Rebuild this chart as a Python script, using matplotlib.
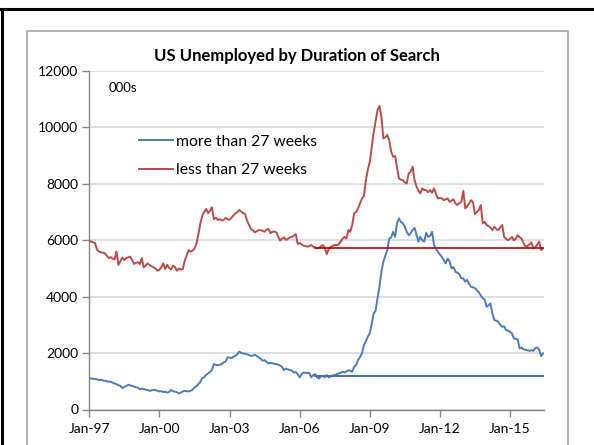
import pandas as pd
import matplotlib
matplotlib.use("Agg")
import matplotlib.pyplot as plt
from matplotlib.lines import Line2D

plt.rcParams['font.family'] = ['Lato', 'DejaVu Sans']

# monthly, Jan-1997 .. Jun-2016, thousands
dates = pd.date_range('1997-01-01', periods=234, freq='MS')

more_27 = [
    1110, 1100, 1090, 1080, 1070, 1040, 1060, 1030, 1020, 1000, 980, 990,
    950, 920, 900, 860, 840, 760, 800, 830, 880, 850, 840, 810,
    790, 770, 720, 740, 730, 700, 690, 660, 680, 700, 690, 660,
    640, 650, 620, 630, 600, 620, 690, 650, 630, 610, 570, 600,
    640, 660, 650, 640, 660, 700, 780, 820, 900, 980, 1110, 1150,
    1230, 1280, 1330, 1400, 1610, 1580, 1570, 1590, 1610, 1670, 1700, 1850,
    1840, 1820, 1870, 1900, 1950, 2050, 2010, 1990, 1980, 1960, 1930, 1900,
    1910, 1940, 1900, 1850, 1800, 1730, 1750, 1690, 1630, 1650, 1640, 1620,
    1610, 1590, 1560, 1510, 1400, 1450, 1420, 1400, 1380, 1310, 1330, 1250,
    1140, 1250, 1310, 1300, 1290, 1300, 1140, 1220, 1250, 1140, 1100, 1180,
    1180, 1150, 1220, 1130, 1180, 1200, 1220, 1250, 1280, 1300, 1340, 1310,
    1350, 1390, 1370, 1340, 1510, 1580, 1750, 1860, 1990, 2280, 2420, 2580,
    2700, 3050, 3400, 3500, 3940, 4350, 4880, 5240, 5450, 5650, 6060, 6100,
    6300, 6120, 6600, 6770, 6650, 6600, 6480, 6300, 6180, 6250, 6360, 6440,
    6200, 5950, 6120, 6000, 5950, 6260, 6120, 6150, 6300, 5830, 5700, 5590,
    5500, 5410, 5300, 5180, 5350, 5250, 5000, 5050, 4880, 4850, 4790, 4650,
    4650, 4530, 4600, 4450, 4350, 4330, 4300, 4230, 4150, 4050, 3940, 3900,
    3640, 3700, 3760, 3400, 3170, 3150, 3110, 3000, 2930, 2950, 2810, 2800,
    2750, 2700, 2520, 2500, 2480, 2160, 2200, 2130, 2120, 2100, 2080, 2100,
    2080, 2180, 2200, 2120, 1890, 1990,
]

less_27 = [
    5975, 5950, 5930, 5900, 5670, 5600, 5570, 5560, 5540, 5450, 5370, 5400,
    5350, 5320, 5600, 5130, 5250, 5390, 5300, 5360, 5400, 5420, 5300, 5160,
    5200, 5220, 5150, 5370, 5040, 5100, 5180, 5120, 5080, 5040, 5000, 4920,
    4950, 5050, 5180, 4980, 5130, 5020, 4960, 5100, 5050, 4920, 5000, 4960,
    4980, 5280, 5450, 5650, 5600, 5630, 5700, 5870, 6200, 6580, 6870, 7000,
    7110, 6960, 7050, 7170, 6750, 6800, 6720, 6750, 6700, 6720, 6790, 6750,
    6720, 6800, 6870, 6950, 6990, 7070, 7020, 6960, 6930, 6700, 6550, 6400,
    6350, 6280, 6320, 6360, 6350, 6340, 6300, 6380, 6400, 6250, 6300, 6310,
    6280, 6130, 5990, 6050, 6100, 6010, 6050, 6100, 6120, 6160, 6220, 5870,
    5900, 5850, 5810, 5800, 5770, 5790, 5830, 5770, 5750, 5710, 5730, 5790,
    5830, 5700, 5510, 5700, 5770, 5800, 5830, 5830, 5850, 5950, 6050, 6120,
    6060, 6360, 6300, 6540, 6950, 7000, 7130, 7300, 7480, 7560, 8130, 8500,
    8780, 9300, 9790, 10200, 10610, 10760, 10380, 9610, 9650, 9730, 9550, 9140,
    8960, 8980, 8600, 8190, 8150, 8130, 8050, 8010, 8370, 8430, 8610, 8130,
    7900, 7750, 7660, 7840, 7780, 7780, 7700, 7780, 7680, 7840, 7650, 7480,
    7500, 7480, 7420, 7450, 7480, 7360, 7400, 7450, 7300, 7250, 7320, 7360,
    7750, 7130, 7200, 7300, 7420, 7350, 6930, 7000, 7070, 7250, 6600, 6650,
    6540, 6500, 6450, 6360, 6480, 6400, 6360, 6450, 6540, 6120, 6050, 6000,
    6050, 6120, 6000, 6050, 6180, 6100, 6060, 5900, 5770, 5800, 5860, 5920,
    5710, 5750, 5850, 5950, 5650, 5710,
]

# flat reference levels drawn from late 2006 to the end
ref_start = '2006-09-01'
more_27_ref = 1200
less_27_ref = 5740

tick_dates = ['1997-01-01', '2000-01-01', '2003-01-01', '2006-01-01',
              '2009-01-01', '2012-01-01', '2015-01-01']
tick_labels = ['Jan-97', 'Jan-00', 'Jan-03', 'Jan-06', 'Jan-09', 'Jan-12', 'Jan-15']

W, H = 594, 445
fig = plt.figure(figsize=(W / 100, H / 100), dpi=100)
ax = fig.add_axes([89.3 / W, 1 - 409.5 / H, 454.7 / W, 338.5 / H])

df = pd.DataFrame({'more': more_27, 'less': less_27}, index=dates)
ref = df.loc[ref_start:]

ax.plot(df.index, df['more'], color='#4A7EBB', lw=1.4, label='more than 27 weeks', zorder=3)
ax.plot(df.index, df['less'], color='#BE4B48', lw=1.4, label='less than 27 weeks', zorder=3)
ax.plot([ref.index[0], ref.index[-1]], [more_27_ref, more_27_ref], color='#4672AA', lw=1.5, zorder=4)
ax.plot([ref.index[0], ref.index[-1]], [less_27_ref, less_27_ref], color='#C00000', lw=1.2, zorder=4)

ax.set_xlim(dates[0], pd.Timestamp('2016-06-15'))
ax.set_ylim(0, 12000)
ax.set_yticks(range(0, 12001, 2000))
ax.set_xticks(pd.to_datetime(tick_dates))
ax.set_xticklabels(tick_labels)

ax.grid(axis='y', color='#D9D9D9', lw=1.2)
ax.set_axisbelow(True)
for s in ['top', 'right']:
    ax.spines[s].set_visible(False)
for s in ['left', 'bottom']:
    ax.spines[s].set_color('#868686')
    ax.spines[s].set_linewidth(1.0)
ax.tick_params(colors='#868686', length=5, width=1, labelcolor='black', labelsize=10, pad=3)
ax.tick_params(axis='x', pad=5)

ax.text(0.043, 0.95, '000s', transform=ax.transAxes, ha='left', va='center', fontsize=9.5)
ax.legend(loc='upper left', bbox_to_anchor=(0.109, 0.812), frameon=False,
          fontsize=11.3, handlelength=2.15, handletextpad=0.22, labelspacing=0.92,
          borderaxespad=0, borderpad=0)

fig.text(0.5, 1 - 56 / H, 'US Unemployed by Duration of Search', ha='center', va='center',
         fontsize=12, fontweight='bold')

# outer black frame (top and left) and grey chart-area box
fig.add_artist(Line2D([0, 1], [1 - 8.5 / H] * 2, color='black', lw=2.2, transform=fig.transFigure))
fig.add_artist(Line2D([1.5 / W] * 2, [0, 1 - 8.5 / H], color='black', lw=2.2, transform=fig.transFigure))
fig.add_artist(Line2D([26.5 / W, 26.5 / W, 567.5 / W, 567.5 / W],
                      [0, 1 - 31 / H, 1 - 31 / H, 0],
                      color='#A6A6A6', lw=1.2, transform=fig.transFigure))

fig.savefig('out.png', dpi=100)
